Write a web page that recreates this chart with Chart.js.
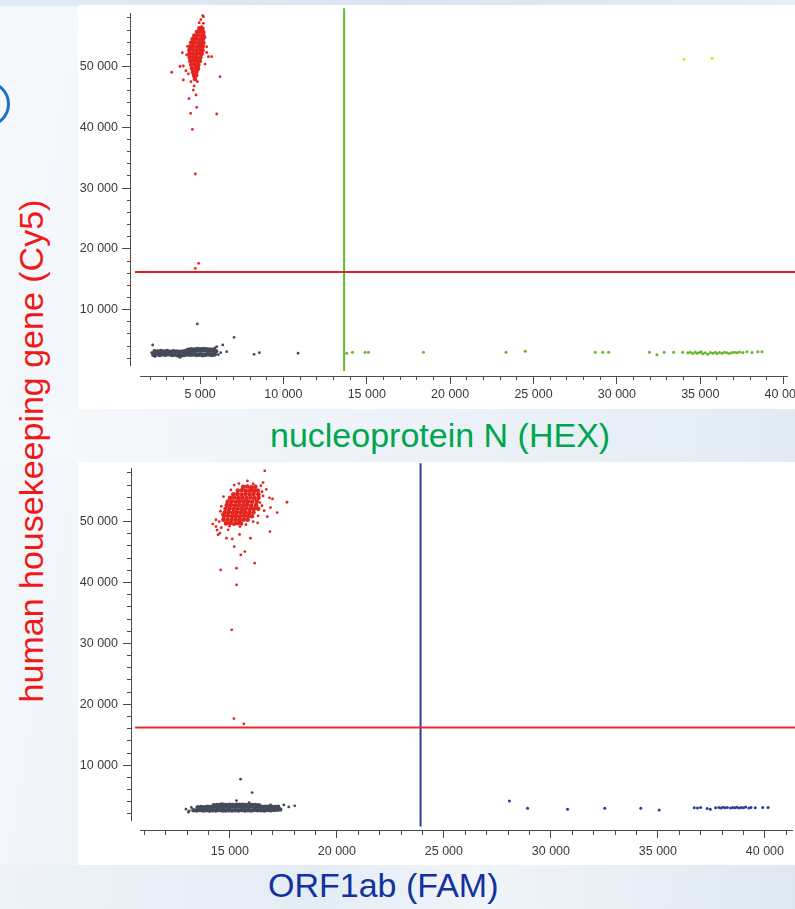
<!DOCTYPE html>
<html>
<head>
<meta charset="utf-8">
<script src="https://cdn.jsdelivr.net/npm/chart.js@4.4.1/dist/chart.umd.min.js"></script>
<style>
  html, body { margin: 0; padding: 0; }
  body {
    width: 795px; height: 909px; position: relative; overflow: hidden;
    font-family: "Liberation Sans", Arial, sans-serif;
    background: linear-gradient(100deg, #f6f9fc 0%, #eef3f9 35%, #f7f9fc 55%, #e6eef6 100%);
  }
  .streak { position: absolute; pointer-events: none; }
  canvas { position: absolute; background: #fff; }
  .title { position: absolute; font-size: 34px; line-height: 34px; white-space: nowrap; }
  .ring { position: absolute; left: -36px; top: 81px; width: 46px; height: 46px;
          border: 3px solid #1f6fc2; border-radius: 50%; box-sizing: border-box; }
</style>
</head>
<body>
<div class="streak" style="left:0;top:0;width:795px;height:6px;background:linear-gradient(90deg,#e3ecf5,#d9e5f1 50%,#e6eef6);"></div>
<div class="streak" style="left:0;top:409px;width:795px;height:53px;background:linear-gradient(90deg,#f7f9fc,#f0f5f9 30%,#ebf1f7 60%,#e2ebf4);"></div>
<div class="streak" style="left:0;top:865px;width:795px;height:44px;background:linear-gradient(90deg,#edf3f8,#e4ecf5 40%,#f0f5f9 60%,#dfe8f2);"></div>
<div class="ring"></div>

<canvas id="hexChart" width="717" height="404" style="left:78px;top:5px;"></canvas>
<canvas id="famChart" width="717" height="403" style="left:78px;top:462px;"></canvas>

<div class="title" style="left:270px;top:418px;color:#00a54f;">nucleoprotein N (HEX)</div>
<div class="title" style="left:268px;top:868px;color:#1431a0;">ORF1ab (FAM)</div>
<div class="title" style="left:-269px;top:434px;width:600px;text-align:center;color:#f21818;transform:rotate(-90deg);">human housekeeping gene (Cy5)</div>

<script>
// ---- Droplet amplitudes: [channel amplitude, Cy5 amplitude] ----

// HEX vs Cy5 plot
const hexCy5Core = [
  [4960,56300],[5140,56250],
  [4820,55700],[5010,55750],[5190,55650],
  [4660,55100],[4870,55150],[5060,55050],[5200,55120],
  [4560,54500],[4760,54550],[4970,54450],[5180,54520],
  [4470,53900],[4680,53950],[4890,53850],[5090,53920],[5200,53880],
  [4410,53300],[4620,53350],[4830,53250],[5040,53320],[5160,53280],
  [4360,52700],[4570,52750],[4780,52650],[4990,52720],[5150,52680],
  [4370,52100],[4580,52150],[4790,52050],[5000,52120],[5100,52080],
  [4380,51500],[4590,51550],[4800,51450],[5020,51520],
  [4420,50900],[4630,50950],[4840,50850],[4990,50920],
  [4470,50300],[4680,50350],[4900,50250],
  [4520,49700],[4720,49750],[4880,49650],
  [4570,49100],[4780,49150],
  [4640,48500],[4770,48550],
  [4690,47950]
];
const hexCy5Spread = [
  [3300,49050],[3800,50000],[4000,50080],[3940,52270],[4000,47780],[4460,47500],
  [4740,47780],[4340,44700],[4440,42300],[4540,39670],[4800,43290],[4760,45310],
  [4600,46130],[4720,32320],[4720,16800],[4920,17630],[5160,58360],[5200,58200],
  [6000,42190],[6200,48320],[5400,53260],[5500,51610],[5700,51610],[5400,52300],
  [5100,56550],[5200,57100],[4200,51890],[4840,47500],[4150,49300],[5300,50400],
  [5300,54800],[4950,57200],[5050,57700],[4300,48800],[4650,46800],[4250,53300]
];
const hexNegCore = [
  [2200,2600],[2380,2650],[2570,2550],[2750,2620],[2940,2580],[3120,2660],[3310,2540],
  [3490,2600],[3680,2480],[3860,2450],[4050,2560],[4230,2620],[4420,2580],[4600,2640],
  [4790,2560],[4970,2600],[5160,2520],[5340,2580],[5530,2620],[5710,2560],[5880,2640],
  [2280,3150],[2470,3100],[2650,3200],[2840,3120],[3020,3180],[3210,3080],[3390,3150],
  [3580,3120],[3760,3060],[3950,3100],[4130,3200],[4320,3180],[4500,3250],[4690,3220],
  [4870,3280],[5060,3250],[5240,3300],[5430,3230],[5610,3260],[5800,3200],[5960,3150],
  [4280,3420],[4460,3480],[4650,3450],[4830,3520],[5010,3480],[5200,3540],[5380,3500],
  [5570,3460],[5740,3420]
];
const hexNegSpread = [
  [2160,4190],[2100,2950],[4840,7650],[7040,5460],[6000,3910],[6360,4190],[6240,2930],
  [6600,3090],[8240,2660],[8560,2930],[10880,2830],[6100,2600],[3800,2150],[2300,2300],
  [5900,3700]
];
const hexOnly = [
  [13800,2830],[14140,2990],[14900,2990],[15100,2990],[18400,2990],[23350,2990],
  [24500,3150],[28700,2990],[29150,2990],[29500,2990],[31950,2990],[32400,2600],
  [32830,2990],[33400,2990],[33940,2990],[34250,2900],[34400,3000],[34550,2800],
  [34700,3050],[34800,2850],[34950,2950],[35050,3100],[35150,2750],[35300,2900],
  [35450,2650],[35600,2950],[35750,2850],[35900,3000],[36000,2800],[36150,2950],
  [36300,2850],[36450,3000],[36600,2900],[36750,2800],[36900,2950],[37050,3000],
  [37200,2900],[37350,3050],[37550,2950],[37800,3090],[38100,2950],[38450,3090],[38700,3090]
];
const hexDouble = [[34030,51180],[35710,51350]];

// FAM vs Cy5 plot
const famCy5Core = [
  [15620,55700],[15810,55750],[16000,55650],[16190,55720],
  [15370,55100],[15560,55150],[15750,55050],[15940,55120],[16130,55080],[16300,55100],
  [15160,54500],[15350,54550],[15540,54450],[15730,54520],[15920,54480],[16110,54550],[16330,54500],
  [15010,53900],[15200,53950],[15390,53850],[15580,53920],[15770,53880],[15960,53950],[16150,53850],[16340,53900],
  [14900,53300],[15090,53350],[15280,53250],[15470,53320],[15660,53280],[15850,53350],[16040,53250],[16260,53300],
  [14860,52700],[15050,52750],[15240,52650],[15430,52720],[15620,52680],[15810,52750],[16000,52650],[16220,52700],
  [14800,52100],[14990,52150],[15180,52050],[15370,52120],[15560,52080],[15750,52150],[15940,52050],[16130,52100],[16320,52120],
  [14760,51500],[14950,51550],[15140,51450],[15330,51520],[15520,51480],[15710,51550],[15900,51450],[16100,51500],
  [14720,50900],[14910,50950],[15100,50850],[15290,50920],[15480,50880],[15670,50950],[15850,50900],[16030,50880],
  [14700,50300],[14890,50350],[15080,50250],[15270,50320],[15460,50280],[15650,50330],[15830,50300],
  [14820,49700],[15010,49750],[15200,49650],[15380,49720],[15520,49700]
];
const famCy5Spread = [
  [14570,42070],[15090,32220],[15190,17650],[15650,16780],[15310,39610],[15310,42350],
  [15700,45080],[15510,44530],[15200,45900],[16160,43170],[15960,47270],[16870,48360],
  [17210,51480],[16990,53730],[17670,53180],[16900,52300],[16550,56400],[16090,56190],
  [15820,56680],[16630,58330],[14350,49180],[14450,47820],[14530,48090],[14840,47270],
  [14200,49600],[14400,48600],[14350,50300],[14600,49000],[16600,51800],[16500,54900],
  [16700,55300],[15200,56000],[15110,47160],[15450,47900],[16300,49800],[16090,50000],
  [16550,54220],[16400,53120],[16320,50940],[15470,49180],[14920,48640],[14650,51200],
  [14500,50000],[16750,50800],[15050,55200],[14700,54100],[16500,52600],[14600,52500],
  [14980,49250],[15750,49500],[16450,55900],[15420,56250],[14560,51700],[16850,53900]
];
const famNegCore = [
  [13300,2600],[13450,2550],[13600,2650],[13750,2580],[13900,2620],[14050,2540],[14200,2600],
  [14350,2560],[14500,2640],[14650,2580],[14800,2550],[14950,2620],[15100,2570],[15250,2600],
  [15400,2550],[15550,2630],[15700,2580],[15850,2600],[16000,2560],[16150,2640],[16300,2590],
  [16450,2620],[16600,2580],[16750,2650],[16900,2610],[17050,2660],[17200,2700],[17350,2720],
  [13500,3100],[13650,3120],[13800,3080],[13950,3150],[14100,3130],[14250,3170],[14400,3120],
  [14550,3180],[14700,3150],[14850,3200],[15000,3160],[15150,3210],[15300,3180],[15450,3220],
  [15600,3170],[15750,3210],[15900,3180],[16050,3220],[16200,3190],[16350,3200],[16500,3170],
  [16650,3180],[16800,3150],[16950,3160],[17100,3120],[17250,3150],
  [14250,3420],[14400,3460],[14550,3440],[14700,3480],[14850,3450],[15000,3500],[15150,3470],
  [15300,3510],[15450,3480],[15600,3500],[15750,3460],[15900,3490],[16050,3450],[16200,3440],
  [16350,3420]
];
const famNegSpread = [
  [15500,7700],[16040,5500],[15310,4190],[15900,3860],[18030,3320],[13060,2280],[12950,2770],
  [13200,3050],[17520,3480],[17750,3150],[13100,2500],[14600,3700],[16900,3500],[17300,2700]
];
const famOnly = [
  [28060,4140],[28910,2940],[30780,2770],[32520,2940],[34200,2940],[35060,2660],
  [36700,3000],[36850,2950],[37000,3050],[37300,2900],[37450,2750],[37700,3000],
  [37850,3050],[37950,2950],[38050,3100],[38150,3000],[38250,3050],[38400,2950],
  [38500,3050],[38600,3000],[38700,3100],[38800,2950],[38900,3050],[39000,3000],
  [39100,3150],[39250,2950],[39350,3050],[39550,3000],[39900,3050],[40150,3050]
];

// Thresholds
const hexThreshold = 13640;
const famThreshold = 23910;
const cy5ThresholdHex = 16200;
const cy5ThresholdFam = 16170;

// Axis ranges and labelled tick values
const hexXRange = [1400, 40200];
const famXRange = [10800, 41300];
const hexYRange = [900, 58800];
const famYRange = [1000, 58800];
const hexXLabels = [5000, 10000, 15000, 20000, 25000, 30000, 35000, 40000];
const famXLabels = [15000, 20000, 25000, 30000, 35000, 40000];
const cy5Labels = [10000, 20000, 30000, 40000, 50000];
const xMinorStep = 1000, yMinorStep = 2000;

// ---- chart construction ----
Chart.defaults.font.family = '"Liberation Sans", Arial, sans-serif';

const fmt = v => String(v).replace(/\B(?=(\d{3})+(?!\d))/g, ' ');
const pts = arr => arr.map(([x, y]) => ({ x, y }));
// every multiple of step inside the range
const multiples = (range, step) => {
  const out = [];
  for (let v = Math.ceil(range[0] / step) * step; v <= range[1]; v += step) out.push(v);
  return out;
};
const useTicks = values => scale => { scale.ticks = values.map(value => ({ value })); };

function dots(data, color, r) {
  return { data: pts(data), backgroundColor: color, pointRadius: r, pointBorderWidth: 0,
           pointHoverRadius: r, order: 2 };
}
function rule(data, color) {
  return { data: pts(data), showLine: true, borderColor: color, borderWidth: 2,
           pointRadius: 0, pointHoverRadius: 0, clip: false, order: 0 };
}
function tickAxis(axis, range, values, len, pos, showBorder) {
  return {
    type: 'linear', axis, min: range[0], max: range[1], position: pos,
    afterBuildTicks: useTicks(values),
    ticks: { display: false },
    grid: { display: true, drawOnChartArea: false, drawTicks: true, tickLength: len,
            color: '#4a4a4a', tickColor: '#4a4a4a', tickWidth: 1 },
    border: { display: showBorder, color: '#4a4a4a', width: 1 }
  };
}

function build(id, cfg) {
  return new Chart(document.getElementById(id), {
    type: 'scatter',
    data: { datasets: cfg.datasets },
    options: {
      responsive: false, animation: false, devicePixelRatio: 1, events: [],
      layout: { padding: cfg.padding },
      plugins: { legend: { display: false }, tooltip: { enabled: false } },
      scales: {
        x: {
          type: 'linear', position: 'bottom', min: cfg.xRange[0], max: cfg.xRange[1],
          afterBuildTicks: useTicks(cfg.xLabels),
          afterFit: s => { s.height = cfg.xLabelBand; s.paddingLeft = 0; s.paddingRight = 0; },
          grid: { display: false, drawTicks: false }, border: { display: false },
          ticks: { padding: cfg.xLabelPad, color: '#3a3a3a', font: { size: 12.5 },
                   autoSkip: false, maxRotation: 0, minRotation: 0, callback: v => fmt(v) }
        },
        y: {
          type: 'linear', position: 'left', min: cfg.yRange[0], max: cfg.yRange[1],
          afterBuildTicks: useTicks(cy5Labels),
          afterFit: s => { s.width = cfg.yLabelBand; s.paddingTop = 0; s.paddingBottom = 0; },
          grid: { display: false, drawTicks: false }, border: { display: false },
          ticks: { padding: 22, color: '#3a3a3a', font: { size: 12.5 },
                   autoSkip: false, callback: v => fmt(v) }
        },
        xMajor: tickAxis('x', cfg.xRange, cfg.xLabels, 7, { y: cfg.xAxisAt }, true),
        xMinor: tickAxis('x', cfg.xRange, multiples(cfg.xRange, xMinorStep), 4, { y: cfg.xAxisAt }, false),
        yMajor: tickAxis('y', cfg.yRange, cy5Labels, 8, { x: cfg.yAxisAt }, true),
        yMinor: tickAxis('y', cfg.yRange, multiples(cfg.yRange, yMinorStep), 4, { x: cfg.yAxisAt }, false)
      }
    }
  });
}

build('hexChart', {
  xRange: hexXRange, yRange: hexYRange, xLabels: hexXLabels,
  padding: { left: 0, top: 8, right: 8, bottom: 0 },
  xLabelBand: 44, yLabelBand: 62, xLabelPad: 22,
  xAxisAt: -910, yAxisAt: 860,
  datasets: [
    rule([[1100, cy5ThresholdHex], [41000, cy5ThresholdHex]], '#ef1c1c'),
    rule([[hexThreshold, -90], [hexThreshold, 59600]], '#64b82c'),
    dots(hexNegSpread, '#444a58', 1.4),
    dots(hexNegCore, '#444a58', 2.3),
    dots(hexCy5Spread, '#e3241f', 1.4),
    dots(hexCy5Core, '#e3241f', 2.3),
    dots(hexOnly, '#66b522', 1.5),
    dots(hexDouble, '#ecdf00', 1.5)
  ]
});

build('famChart', {
  xRange: famXRange, yRange: famYRange, xLabels: famXLabels,
  padding: { left: 0, top: 6, right: 1, bottom: 0 },
  xLabelBand: 45, yLabelBand: 62, xLabelPad: 24,
  xAxisAt: -760, yAxisAt: 10380,
  datasets: [
    rule([[10570, cy5ThresholdFam], [42000, cy5ThresholdFam]], '#ef2a2a'),
    rule([[famThreshold, -80], [famThreshold, 59600]], '#2b3f98'),
    dots(famNegSpread, '#444a58', 1.4),
    dots(famNegCore, '#444a58', 2.3),
    dots(famCy5Spread, '#e3241f', 1.4),
    dots(famCy5Core, '#e3241f', 2.3),
    dots(famOnly, '#283e9a', 1.5)
  ]
});
</script>
</body>
</html>
